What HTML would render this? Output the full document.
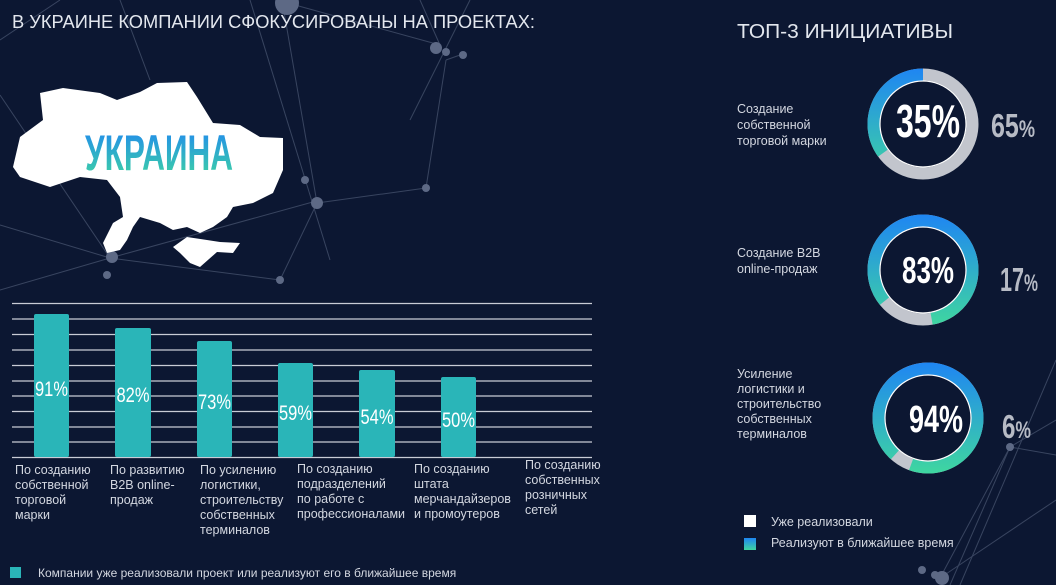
<!DOCTYPE html>
<html><head><meta charset="utf-8"><style>
html,body{margin:0;padding:0;background:#0c1732;}
svg{display:block;font-family:"Liberation Sans","Noto Sans CJK SC",sans-serif;}
</style></head><body>
<svg width="1056" height="585" viewBox="0 0 1056 585" xmlns="http://www.w3.org/2000/svg">
<defs>
<linearGradient id="g1" gradientUnits="userSpaceOnUse" x1="0" y1="69" x2="0" y2="179"><stop offset="0" stop-color="#1f86f2"/><stop offset="1" stop-color="#3fd6a0"/></linearGradient>
<linearGradient id="g2" gradientUnits="userSpaceOnUse" x1="0" y1="215" x2="0" y2="325"><stop offset="0" stop-color="#1f86f2"/><stop offset="1" stop-color="#3fd6a0"/></linearGradient>
<linearGradient id="g3" gradientUnits="userSpaceOnUse" x1="0" y1="363" x2="0" y2="473"><stop offset="0" stop-color="#1f86f2"/><stop offset="1" stop-color="#3fd6a0"/></linearGradient>
<linearGradient id="gt" x1="0" y1="0" x2="0" y2="1"><stop offset="0" stop-color="#1f86f2"/><stop offset="1" stop-color="#3fd6a0"/></linearGradient>
</defs>
<rect width="1056" height="585" fill="#0c1732"/>
<g stroke="#56637e" stroke-width="1" opacity="0.6" fill="none">
<line x1="0" y1="95" x2="110" y2="258"/><line x1="0" y1="40" x2="60" y2="0"/><line x1="110" y1="258" x2="320" y2="200"/>
<line x1="110" y1="258" x2="0" y2="225"/><line x1="110" y1="258" x2="280" y2="280"/><line x1="282" y1="0" x2="317" y2="203"/>
<line x1="317" y1="203" x2="426" y2="188"/><line x1="426" y1="188" x2="446" y2="60"/><line x1="446" y1="60" x2="460" y2="55"/>
<line x1="295" y1="5" x2="440" y2="45"/><line x1="440" y1="45" x2="420" y2="0"/><line x1="470" y1="0" x2="410" y2="120"/>
<line x1="317" y1="203" x2="280" y2="280"/><line x1="120" y1="0" x2="150" y2="80"/><line x1="0" y1="290" x2="110" y2="258"/>
<line x1="1056" y1="420" x2="1010" y2="447"/><line x1="1010" y1="447" x2="1056" y2="455"/><line x1="1010" y1="447" x2="940" y2="578"/>
<line x1="940" y1="578" x2="1056" y2="500"/><line x1="1010" y1="447" x2="950" y2="585"/><line x1="1056" y1="360" x2="960" y2="585"/>
<line x1="250" y1="0" x2="330" y2="260"/>
</g>
<g fill="#5d6985">
<circle cx="287" cy="3" r="12"/><circle cx="317" cy="203" r="6"/><circle cx="426" cy="188" r="4"/><circle cx="436" cy="48" r="6"/><circle cx="446" cy="52" r="4"/><circle cx="463" cy="55" r="4"/>
<circle cx="112" cy="257" r="6"/><circle cx="107" cy="275" r="4"/><circle cx="305" cy="180" r="4"/><circle cx="280" cy="280" r="4"/>
<circle cx="1010" cy="447" r="4"/><circle cx="942" cy="578" r="7"/><circle cx="922" cy="570" r="4"/><circle cx="935" cy="575" r="4"/>
</g>
<path fill="#ffffff" d="M13,167 L20,137 L43,120 L40,93 L63,88 L100,93 L117,100 L140,92 L157,83 L187,82 L197,97 L213,123 L240,125 L260,137 L283,138 L283,170 L273,193 L253,203 L233,207 L227,217 L213,227 L200,233 L187,227 L173,230 L160,223 L140,217 L133,227 L127,240 L120,250 L107,253 L103,243 L113,223 L123,217 L120,197 L107,180 L80,177 L50,187 L20,177 Z"/>
<path fill="#ffffff" d="M173,247 L187,237 L207,240 L220,242 L240,243 L233,253 L217,252 L200,267 L190,263 L180,253 Z"/>
<text x="85" y="170" font-size="50" font-weight="bold" fill="url(#gt)" textLength="148" lengthAdjust="spacingAndGlyphs">УКРАИНА</text>
<text x="12" y="28" font-size="18" fill="#e3e7ee" textLength="523" lengthAdjust="spacingAndGlyphs">В УКРАИНЕ КОМПАНИИ СФОКУСИРОВАНЫ НА ПРОЕКТАХ:</text>
<text x="737" y="38" font-size="20" fill="#e3e7ee" textLength="216" lengthAdjust="spacingAndGlyphs">ТОП-3 ИНИЦИАТИВЫ</text>
<g stroke="#c9ccd6" stroke-width="1.3">
<line x1="12" x2="592" y1="303.5" y2="303.5"/><line x1="12" x2="592" y1="319" y2="319"/><line x1="12" x2="592" y1="334.5" y2="334.5"/>
<line x1="12" x2="592" y1="350" y2="350"/><line x1="12" x2="592" y1="365.5" y2="365.5"/><line x1="12" x2="592" y1="381" y2="381"/>
<line x1="12" x2="592" y1="396" y2="396"/><line x1="12" x2="592" y1="411.5" y2="411.5"/><line x1="12" x2="592" y1="427" y2="427"/>
<line x1="12" x2="592" y1="442" y2="442"/><line x1="12" x2="592" y1="457.5" y2="457.5"/>
</g>
<g fill="#2ab5b8">
<rect x="34" y="314" width="35" height="143" rx="2"/><rect x="115" y="328" width="36" height="129" rx="2"/><rect x="197" y="341" width="35" height="116" rx="2"/>
<rect x="278" y="363" width="35" height="94" rx="2"/><rect x="359" y="370" width="36" height="87" rx="2"/><rect x="441" y="377" width="35" height="80" rx="2"/>
</g>
<g fill="#ffffff" font-size="21" text-anchor="middle">
<text x="51.5" y="396" textLength="33" lengthAdjust="spacingAndGlyphs">91%</text><text x="133" y="402" textLength="33" lengthAdjust="spacingAndGlyphs">82%</text><text x="214.5" y="409" textLength="33" lengthAdjust="spacingAndGlyphs">73%</text>
<text x="295.5" y="420" textLength="33" lengthAdjust="spacingAndGlyphs">59%</text><text x="377" y="424" textLength="33" lengthAdjust="spacingAndGlyphs">54%</text><text x="458.5" y="427" textLength="33" lengthAdjust="spacingAndGlyphs">50%</text>
</g>
<g fill="#d3d7e0" font-size="12.5">
<text x="15" y="474">По созданию</text><text x="15" y="489">собственной</text><text x="15" y="504">торговой</text><text x="15" y="519">марки</text>
<text x="110" y="474">По развитию</text><text x="110" y="489">B2B online-</text><text x="110" y="504">продаж</text>
<text x="200" y="474">По усилению</text><text x="200" y="489">логистики,</text><text x="200" y="504">строительству</text><text x="200" y="519">собственных</text><text x="200" y="534">терминалов</text>
<text x="297" y="473">По созданию</text><text x="297" y="488">подразделений</text><text x="297" y="503">по работе с</text><text x="297" y="518">профессионалами</text>
<text x="414" y="473">По созданию</text><text x="414" y="488">штата</text><text x="414" y="503">мерчандайзеров</text><text x="414" y="518">и промоутеров</text>
<text x="525" y="469">По созданию</text><text x="525" y="484">собственных</text><text x="525" y="499">розничных</text><text x="525" y="514">сетей</text>
</g>
<rect x="10" y="567" width="11" height="11" fill="#2ab5b8"/>
<text x="38" y="577" font-size="12" fill="#d3d7e0">Компании уже реализовали проект или реализуют его в ближайшее время</text>
<g fill="none">
<circle cx="923" cy="124" r="49.5" stroke="#c2c5cd" stroke-width="12"/>
<path d="M882.95,153.1 A49.5,49.5 0 0 1 923,74.5" stroke="url(#g1)" stroke-width="12"/>
<circle cx="923" cy="124" r="43" stroke="#ffffff" stroke-width="1.2"/>
<circle cx="923" cy="270" r="49.5" stroke="#c2c5cd" stroke-width="12"/>
<path d="M884.53,301.15 A49.5,49.5 0 1 1 931.6,318.75" stroke="url(#g2)" stroke-width="12"/>
<circle cx="923" cy="270" r="43" stroke="#ffffff" stroke-width="1.2"/>
<circle cx="928" cy="418" r="49.5" stroke="#c2c5cd" stroke-width="12"/>
<path d="M894.88,454.78 A49.5,49.5 0 1 1 911.07,464.53" stroke="url(#g3)" stroke-width="12"/>
<circle cx="928" cy="418" r="43" stroke="#ffffff" stroke-width="1.2"/>
</g>
<g font-weight="bold">
<text x="896" y="137" font-size="46" fill="#fff" textLength="64" lengthAdjust="spacingAndGlyphs">35%</text>
<text x="902" y="283" font-size="37" fill="#fff" textLength="52" lengthAdjust="spacingAndGlyphs">83%</text>
<text x="909" y="432" font-size="38" fill="#fff" textLength="54" lengthAdjust="spacingAndGlyphs">94%</text>
<text x="991" y="137" font-size="33" fill="#b7bbc5" textLength="44" lengthAdjust="spacingAndGlyphs">65<tspan font-size="24">%</tspan></text>
<text x="1000" y="291" font-size="33" fill="#b7bbc5" textLength="38" lengthAdjust="spacingAndGlyphs">17<tspan font-size="24">%</tspan></text>
<text x="1002" y="438" font-size="33" fill="#b7bbc5" textLength="29" lengthAdjust="spacingAndGlyphs">6<tspan font-size="24">%</tspan></text>
</g>
<g fill="#d3d7e0" font-size="12.5">
<text x="737" y="113">Создание</text><text x="737" y="129">собственной</text><text x="737" y="145">торговой марки</text>
<text x="737" y="257">Создание B2B</text><text x="737" y="273">online-продаж</text>
<text x="737" y="378">Усиление</text><text x="737" y="393">логистики и</text><text x="737" y="408">строительство</text><text x="737" y="423">собственных</text><text x="737" y="438">терминалов</text>
</g>
<rect x="744" y="515" width="12" height="12" fill="#ffffff"/>
<text x="771" y="526" font-size="12.5" fill="#d3d7e0">Уже реализовали</text>
<rect x="744" y="538" width="12" height="12" fill="url(#gt)"/>
<text x="771" y="547" font-size="12.5" fill="#d3d7e0">Реализуют в ближайшее время</text>
</svg>
</body></html>
